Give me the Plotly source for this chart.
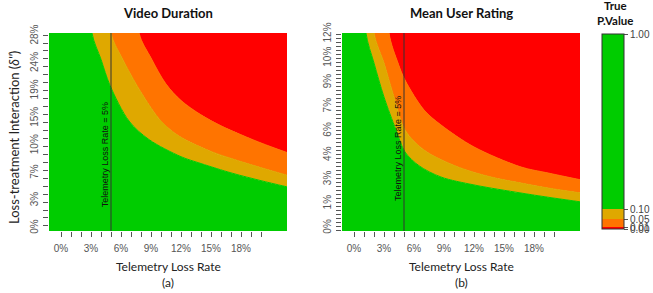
import plotly.graph_objects as go

# ---------------- data ----------------
# Telemetry loss rate axis (percent) and threshold marker
X_RANGE = [-1.2, 22.6]
X_TICKS = list(range(0, 21))
X_TICK_TEXT = [f"{v}%" if v % 3 == 0 and v <= 18 else "" for v in X_TICKS]
LOSS_MARK = 5

# Panel (a) Video Duration
A_Y_RANGE = [-0.44, 28.44]
A_Y_TICKS = [0, 4, 8, 12, 16, 20, 24, 28]
A_Y_TEXT = ["0%", "3%", "7%", "10%", "15%", "19%", "24%", "28%"]
A_P10_X = [3.1, 4.0, 4.9, 6.8, 8.8, 12.0, 14.0, 17.1, 20.0, 22.6]
A_P10_Y = [28.44, 24.6, 20.8, 15.6, 12.9, 10.4, 9.4, 8.0, 6.9, 6.0]
A_P05_X = [5.0, 6.1, 8.0, 10.0, 11.8, 15.1, 17.1, 20.0, 22.6]
A_P05_Y = [28.44, 24.8, 19.8, 15.6, 13.4, 11.1, 10.1, 8.8, 7.7]
A_P01_X = [7.8, 9.0, 10.5, 12.0, 14.0, 16.0, 18.0, 20.0, 22.6]
A_P01_Y = [28.44, 24.8, 21.0, 18.6, 16.5, 14.9, 13.6, 12.4, 11.0]

# Panel (b) Mean User Rating
B_Y_RANGE = [-0.19, 12.06]
B_Y_TICKS = [0, 1.5, 3, 4.5, 6, 7.5, 9, 10.5, 12]
B_Y_TEXT = ["0%", "1%", "3%", "4%", "6%", "7%", "9%", "10%", "12%"]
B_P10_X = [1.2, 2.0, 3.0, 4.2, 5.1, 6.5, 8.7, 12.0, 16.7, 19.4, 22.7]
B_P10_Y = [12.06, 10.2, 8.1, 6.06, 4.7, 3.85, 3.15, 2.66, 2.16, 1.9, 1.61]
B_P05_X = [2.0, 3.0, 4.0, 5.1, 7.0, 10.4, 13.7, 16.7, 19.4, 22.7]
B_P05_Y = [12.06, 10.2, 8.1, 6.06, 4.82, 3.77, 3.15, 2.78, 2.47, 2.16]
B_P01_X = [3.5, 4.4, 5.1, 7.0, 8.7, 12.0, 16.7, 19.4, 22.7]
B_P01_Y = [12.06, 10.2, 9.15, 7.3, 6.37, 5.01, 3.77, 3.40, 2.97]

# P-value legend
P_TICKS = [0.0, 0.01, 0.05, 0.10, 1.0]
P_TICK_TEXT = ["0.00", "0.01", "0.05", "0.10", "1.00"]

C_GREEN = "#00CC00"
C_GOLD = "#DFA800"
C_ORANGE = "#FF7400"
C_RED = "#FF0000"

# ---------------- figure ----------------
W, H = 653, 293
fig = go.Figure()

def px_x(p):
    return p / W

def px_y(p):
    return 1 - p / H

def add_panel(xa, ya, yr, bounds):
    x0, x1 = X_RANGE
    y0, y1 = yr
    above = y1 + (y1 - y0) * 0.3  # off-view helper so the curve enters the top edge smoothly
    fig.add_trace(go.Scatter(x=[x0, x1], y=[y0, y0], mode="lines",
                             line=dict(width=0, color=C_GREEN),
                             xaxis=xa, yaxis=ya, hoverinfo="skip", showlegend=False))
    colors = [C_GREEN, C_GOLD, C_ORANGE]
    for (bx, by), col in zip(bounds, colors):
        fig.add_trace(go.Scatter(x=[x0, bx[0]] + bx, y=[above, above] + by, mode="lines",
                                 line=dict(width=1, color=col, shape="spline", smoothing=0.9),
                                 fill="tonexty", fillcolor=col,
                                 xaxis=xa, yaxis=ya, hoverinfo="skip", showlegend=False))
    fig.add_trace(go.Scatter(x=[x0, x1], y=[above, above], mode="lines",
                             line=dict(width=0, color=C_RED),
                             fill="tonexty", fillcolor=C_RED,
                             xaxis=xa, yaxis=ya, hoverinfo="skip", showlegend=False))

add_panel("x", "y", A_Y_RANGE, [(A_P10_X, A_P10_Y), (A_P05_X, A_P05_Y), (A_P01_X, A_P01_Y)])
add_panel("x2", "y2", B_Y_RANGE, [(B_P10_X, B_P10_Y), (B_P05_X, B_P05_Y), (B_P01_X, B_P01_Y)])

cscale = [[0, C_RED], [0.01, C_RED], [0.01, C_ORANGE], [0.05, C_ORANGE],
          [0.05, C_GOLD], [0.10, C_GOLD], [0.10, C_GREEN], [1, C_GREEN]]
fig.add_trace(go.Scatter(x=[None], y=[None], mode="markers", xaxis="x", yaxis="y",
                         showlegend=False, hoverinfo="skip",
                         marker=dict(color=P_TICKS, cmin=0, cmax=1, colorscale=cscale,
                                     showscale=True, opacity=0,
                                     colorbar=dict(x=px_x(602), xanchor="left", xpad=0, ypad=0,
                                                   y=px_y(34), yanchor="top",
                                                   len=195 / H, lenmode="fraction",
                                                   thickness=22, thicknessmode="pixels",
                                                   outlinewidth=1, outlinecolor="#333",
                                                   tickmode="array", tickvals=P_TICKS,
                                                   ticktext=P_TICK_TEXT, ticks="outside",
                                                   ticklen=4, tickcolor="#555",
                                                   tickfont=dict(family="Liberation Sans", size=10, color="#444")))))

tickfont = dict(family="Liberation Sans", size=10, color="#555")

def xaxis(domain, anchor):
    return dict(domain=domain, anchor=anchor, range=X_RANGE, tickmode="array",
                tickvals=X_TICKS, ticktext=X_TICK_TEXT, ticks="outside", ticklen=5,
                tickcolor="#555", tickwidth=1, tickfont=tickfont, showgrid=False,
                zeroline=False, showline=False, ticklabelstandoff=3, automargin=False)

def yaxis(domain, anchor, yr, tv, tt, mdt, mt0):
    return dict(domain=domain, anchor=anchor, range=yr, tickmode="array",
                tickvals=tv, ticktext=tt, ticks="outside", ticklen=6,
                tickcolor="rgba(0,0,0,0)", tickangle=-90, tickfont=tickfont,
                showgrid=False, zeroline=False, showline=False, automargin=False,
                minor=dict(ticks="outside", ticklen=5, tickcolor="#555",
                           dtick=mdt, tick0=mt0, showgrid=False))

dom_y = [px_y(231), px_y(33)]
fig.update_layout(
    width=W, height=H, margin=dict(l=0, r=0, t=0, b=0, pad=0, autoexpand=False),
    paper_bgcolor="white", plot_bgcolor="white", showlegend=False,
    xaxis=xaxis([px_x(49), px_x(287)], "y"),
    yaxis=yaxis(dom_y, "x", A_Y_RANGE, A_Y_TICKS, A_Y_TEXT, 1.16, 0.3),
    xaxis2=xaxis([px_x(342), px_x(580)], "y2"),
    yaxis2=yaxis(dom_y, "x2", B_Y_RANGE, B_Y_TICKS, B_Y_TEXT, 0.2475, 0.07),
)

for xa, ya in (("x", "y"), ("x2", "y2")):
    fig.add_shape(type="line", xref=xa, yref=f"{ya} domain", x0=LOSS_MARK, x1=LOSS_MARK,
                  y0=0, y1=1, line=dict(color="#333", width=1))

lab_font = dict(family="Liberation Sans", size=9, color="#111")
fig.add_annotation(x=LOSS_MARK, y=10.6, xref="x", yref="y", text="Telemetry Loss Rate = 5%",
                   textangle=-90, showarrow=False, xshift=-6, font=lab_font)
fig.add_annotation(x=LOSS_MARK, y=4.95, xref="x2", yref="y2", text="Telemetry Loss Rate = 5%",
                   textangle=-90, showarrow=False, xshift=-6, font=lab_font)

title_font = dict(family="Lato", size=13, color="#111")
txt_font = dict(family="Lato", size=12, color="#222")
def ann(x, y, text, font, angle=0):
    fig.add_annotation(x=px_x(x), y=px_y(y), xref="paper", yref="paper", text=text,
                       showarrow=False, font=font, textangle=angle,
                       xanchor="center", yanchor="middle")

ann(168, 13, "<b>Video Duration</b>", title_font)
ann(461, 13, "<b>Mean User Rating</b>", title_font)
ann(615, 6, "<b>True</b>", dict(family="Lato", size=11.5, color="#111"))
ann(615, 20, "<b>P.Value</b>", dict(family="Lato", size=11.5, color="#111"))
ann(168, 266, "Telemetry Loss Rate", txt_font)
ann(168, 282, "(a)", txt_font)
ann(461, 266, "Telemetry Loss Rate", txt_font)
ann(461, 282, "(b)", txt_font)
ann(14, 138, "Loss-treatment Interaction (<i>δ''</i>)", dict(family="Lato", size=13, color="#222"), -90)

fig.write_html("out.html", config={"displayModeBar": False},
               post_script="document.body.style.margin='0';")
